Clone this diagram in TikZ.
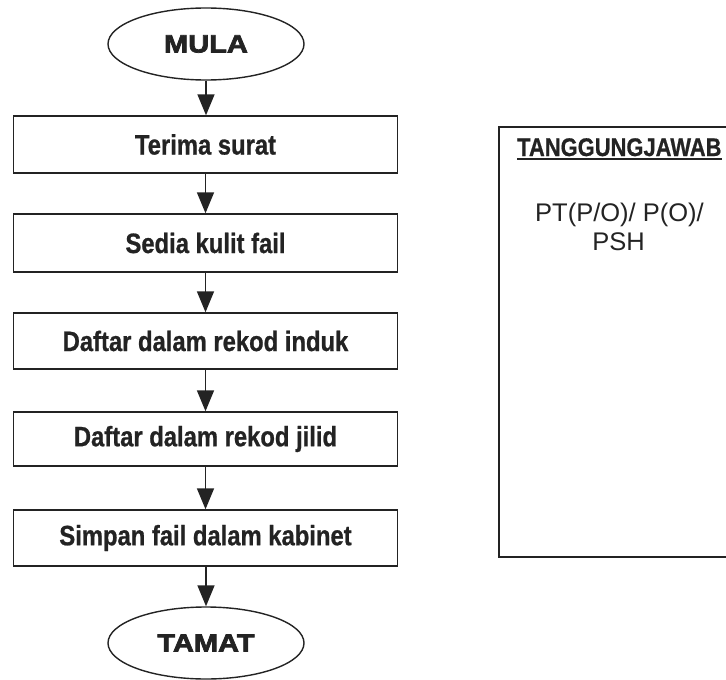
\documentclass[tikz,border=0pt]{standalone}
\usepackage{fontspec}
\setmainfont{Liberation Sans}
\newfontfamily\narrowfont{Liberation Sans}[FakeStretch=0.85,FakeBold=0.8]
\newfontfamily\panelfont{Liberation Sans}[FakeStretch=0.86,FakeBold=0.6]
\newfontfamily\blackfont{Liberation Sans}[FakeStretch=1.16,FakeBold=3]
\usetikzlibrary{shapes.geometric,arrows.meta}
\definecolor{ink}{RGB}{35,35,35}
\tikzset{
  term/.style={ellipse,draw=ink,line width=1.4pt,inner sep=0pt,minimum width=196pt,minimum height=72pt,
    font=\blackfont\bfseries\fontsize{25}{28}\selectfont,text=ink},
  stepbox/.style={rectangle,draw=ink,line width=1.4pt,inner sep=0pt,minimum width=384pt,
    font=\narrowfont\bfseries\fontsize{28}{32}\selectfont,text=ink},
  flowhead/.tip={Triangle[length=21pt,width=17pt]},
  flow/.style={draw=ink,fill=ink,line width=1.6pt,arrows={-flowhead}},
  paneltext/.style={inner sep=0pt,text=ink,font=\fontsize{25.5}{29}\selectfont},
}
\begin{document}
\begin{tikzpicture}[x=1pt,y=-1pt]
\useasboundingbox (0,0) rectangle (726,680);
\node[term] (mula) at (206,44) {MULA};
\node[stepbox,minimum height=57pt] (b1) at (205.5,144.5) {Terima surat};
\node[stepbox,minimum height=58pt] (b2) at (205.5,243) {Sedia kulit fail};
\node[stepbox,minimum height=56pt] (b3) at (205.5,341) {Daftar dalam rekod induk};
\node[stepbox,minimum height=54pt] (b4) at (205.5,439) {Daftar dalam rekod jilid};
\node[stepbox,minimum height=56pt] (b5) at (205.5,538) {Simpan fail dalam kabinet};
\node[term,minimum height=72pt] (tamat) at (206,643) {TAMAT};
\draw[flow] (mula.south) -- (mula.south |- b1.north);
\draw[flow] (b1.south) -- (b2.north);
\draw[flow] (b2.south) -- (b3.north);
\draw[flow] (b3.south) -- (b4.north);
\draw[flow] (b4.south) -- (b5.north);
\draw[flow] (tamat.north |- b5.south) -- (tamat.north);
% responsibility panel
\coordinate (ptl) at (727,127);
\coordinate (pbl) at (727,557);
\draw[draw=ink,line width=1.4pt] (ptl) -- (499,127) -- (499,557) -- (pbl);
\node[paneltext,anchor=base west,font=\panelfont\bfseries\fontsize{25.5}{29}\selectfont] (tg) at (517,156) {TANGGUNGJAWAB};
\draw[draw=ink,line width=1.3pt] ([yshift=-3pt]tg.base west) -- ([yshift=-3pt]tg.base east);
\node[paneltext,anchor=base] (pt1) at (619.5,221) {PT(P/O)/ P(O)/};
\node[paneltext,anchor=base] (pt2) at (618.5,250) {PSH};
\end{tikzpicture}
\end{document}
